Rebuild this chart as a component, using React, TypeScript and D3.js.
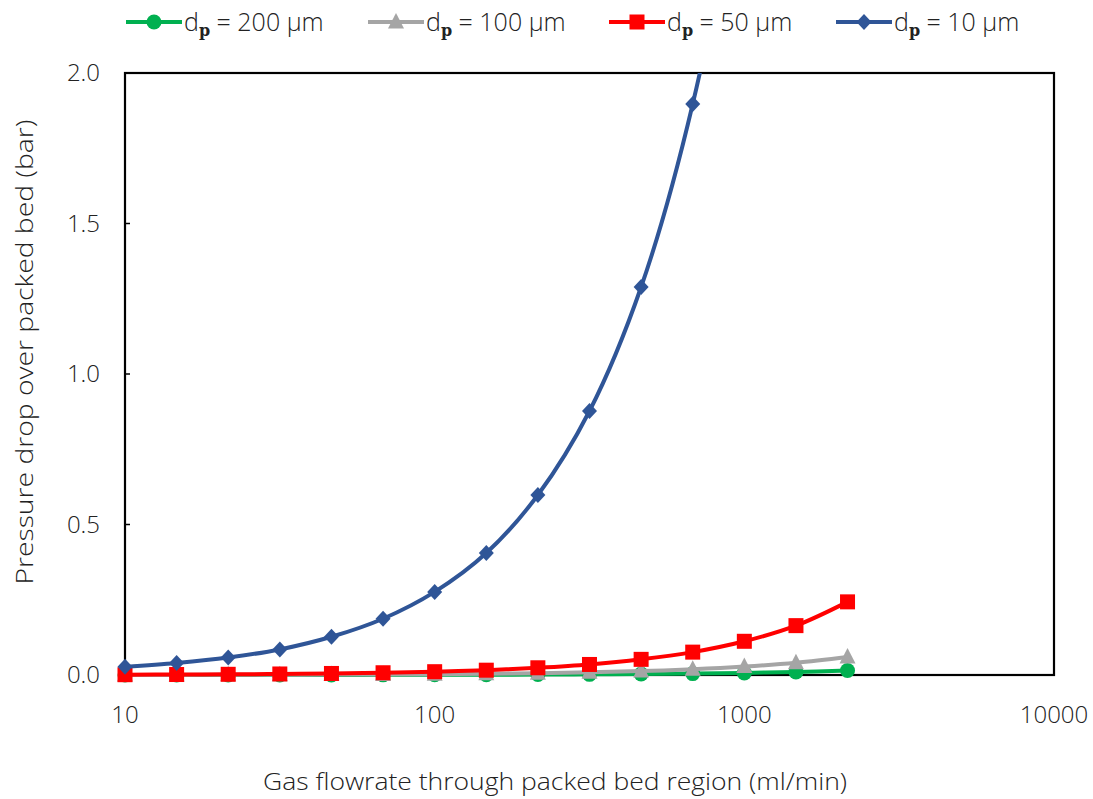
import React from "react";
import * as d3 from "d3";

const flowrates = [10, 14.68, 21.54, 31.62, 46.42, 68.13, 100, 146.8, 215.4, 316.2, 464.2, 681.3, 1000, 1468, 2154];
const dp200 = [0.0001, 0.0001, 0.00015, 0.0002, 0.0003, 0.0005, 0.0007, 0.001, 0.0015, 0.0022, 0.0032, 0.0047, 0.007, 0.010, 0.015];
const dp100 = [0.0003, 0.0004, 0.0006, 0.0008, 0.0013, 0.0019, 0.0028, 0.004, 0.006, 0.009, 0.013, 0.019, 0.028, 0.041, 0.060];
const dp50 = [0.001, 0.0016, 0.0023, 0.0034, 0.0051, 0.0075, 0.011, 0.016, 0.024, 0.035, 0.052, 0.076, 0.112, 0.164, 0.243];
const dp10 = [0.027, 0.040, 0.058, 0.085, 0.127, 0.187, 0.276, 0.405, 0.598, 0.877, 1.289, 1.897, 2.79, 4.10, 6.03];

const seriesNames = ["200 µm", "100 µm", "50 µm", "10 µm"];
const seriesValues = [dp200, dp100, dp50, dp10];
const seriesColors = ["#00B050", "#A5A5A5", "#FF0000", "#2F5597"];
const seriesMarkers = ["circle", "triangle", "square", "diamond"];

const xTicks = [10, 100, 1000, 10000];
const yTicks = [0, 0.5, 1.0, 1.5, 2.0];

const xTitle = "Gas flowrate through packed bed region (ml/min)";
const yTitle = "Pressure drop over packed bed (bar)";

const FONT = "'Open Sans', 'Noto Sans', sans-serif";

function Marker({ type, x, y, color }: { type: string; x: number; y: number; color: string }) {
  if (type === "circle") return <circle cx={x} cy={y} r={7.5} fill={color} />;
  if (type === "square") return <rect x={x - 7.5} y={y - 7.5} width={15} height={15} fill={color} />;
  if (type === "triangle")
    return <path d={`M${x},${y - 9}L${x + 8},${y + 6.5}L${x - 8},${y + 6.5}Z`} fill={color} />;
  return <path d={`M${x},${y - 8}L${x + 7.5},${y}L${x},${y + 8}L${x - 7.5},${y}Z`} fill={color} />;
}

export default function App() {
  const W = 1093, H = 799;
  const left = 125, right = 1054, top = 73, bottom = 675;
  const x = d3.scaleLog().domain([10, 10000]).range([left, right]);
  const y = d3.scaleLinear().domain([0, 2]).range([bottom, top]);
  const line = d3
    .line<number>()
    .x((_, i) => x(flowrates[i]))
    .y((d) => y(d))
    .curve(d3.curveCatmullRom.alpha(0.5));

  const legendX = [126, 368, 609, 836];
  const legendY = 22;

  return (
    <svg width={W} height={H} style={{ position: "absolute", left: 0, top: 0, background: "#fff" }}>
      <defs>
        <clipPath id="plotClip">
          <rect x={0} y={top} width={W} height={H - top} />
        </clipPath>
      </defs>
      <rect x={0} y={0} width={W} height={H} fill="#fff" />

      {yTicks.map((t) => (
        <g key={"yt" + t}>
          <line x1={left} x2={left + 5} y1={y(t)} y2={y(t)} stroke="#000" strokeWidth={1.5} />
          <text
            x={100}
            y={y(t)}
            dy="0.35em"
            textAnchor="end"
            fontFamily={FONT}
            fontWeight={300}
            fontSize={24}
            fill="#222"
          >
            {d3.format(".1f")(t)}
          </text>
        </g>
      ))}
      {xTicks.map((t) => (
        <text
          key={"xt" + t}
          x={x(t)}
          y={723}
          textAnchor="middle"
          fontFamily={FONT}
          fontWeight={300}
          fontSize={24}
          fill="#222"
        >
          {t}
        </text>
      ))}

      <rect x={left} y={top} width={right - left} height={bottom - top} fill="none" stroke="#000" strokeWidth={2.2} />

      <g clipPath="url(#plotClip)">
        {seriesValues.map((vals, si) => (
          <g key={"s" + si}>
            <path d={line(vals) || ""} fill="none" stroke={seriesColors[si]} strokeWidth={4} />
            {vals.map((v, i) => (
              <Marker key={i} type={seriesMarkers[si]} x={x(flowrates[i])} y={y(v)} color={seriesColors[si]} />
            ))}
          </g>
        ))}
      </g>

      {seriesNames.map((name, si) => (
        <g key={"lg" + si}>
          <line
            x1={legendX[si]}
            x2={legendX[si] + 56}
            y1={legendY}
            y2={legendY}
            stroke={seriesColors[si]}
            strokeWidth={4}
          />
          <Marker type={seriesMarkers[si]} x={legendX[si] + 28} y={legendY} color={seriesColors[si]} />
          <text x={legendX[si] + 58} y={legendY + 9} fontFamily={FONT} fontWeight={300} fontSize={25} fill="#222">
            d
            <tspan fontFamily="'DejaVu Serif', serif" fontWeight="bold" fontSize={16} dy={5}>
              p
            </tspan>
            <tspan dy={-5}>{" = " + name}</tspan>
          </text>
        </g>
      ))}

      <text
        x={555}
        y={790}
        textAnchor="middle"
        fontFamily={FONT}
        fontWeight={300}
        fontSize={24}
        fill="#222"
        textLength={584}
        lengthAdjust="spacingAndGlyphs"
      >
        {xTitle}
      </text>
      <text
        transform={`translate(33, 352) rotate(-90)`}
        textAnchor="middle"
        fontFamily={FONT}
        fontWeight={300}
        fontSize={24}
        fill="#222"
        textLength={465}
        lengthAdjust="spacingAndGlyphs"
      >
        {yTitle}
      </text>
    </svg>
  );
}
